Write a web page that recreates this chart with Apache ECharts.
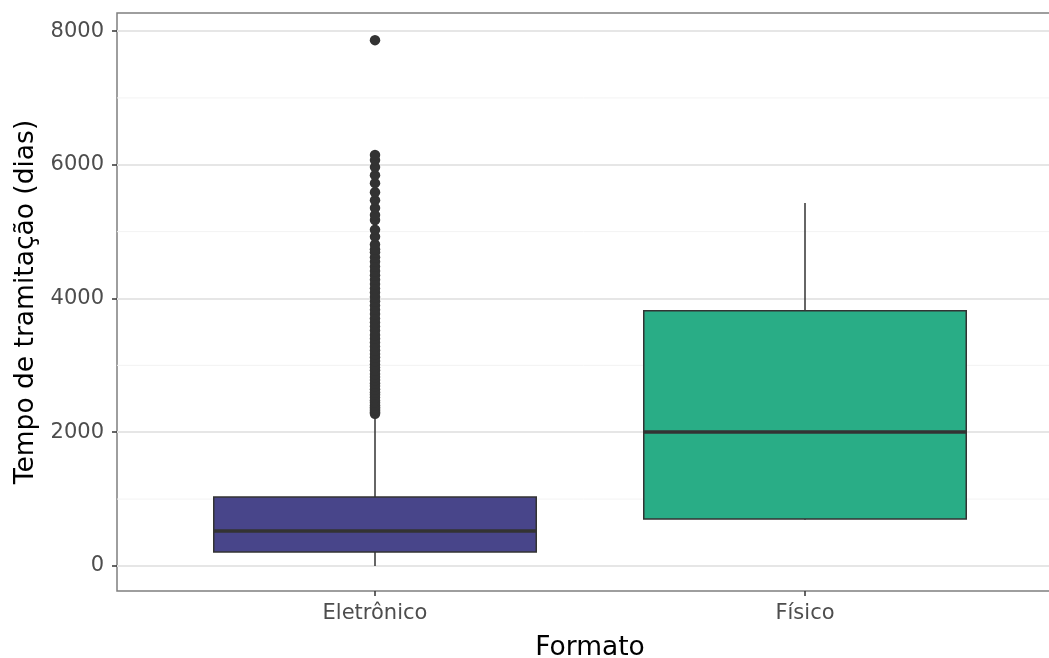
<!DOCTYPE html>
<html>
<head>
<meta charset="utf-8">
<script src="https://cdn.jsdelivr.net/npm/echarts@6/dist/echarts.min.js"></script>
<style>
  html, body { margin: 0; padding: 0; background: #fff; }
  #chart { width: 1049px; height: 658px; }
</style>
</head>
<body>
<div id="chart"></div>
<script>
// Categories on the x axis
const formats = ['Eletrônico', 'Físico'];
const formatColors = ['#48458a', '#29ad86'];

// Five-number summaries: [min whisker, Q1, median, Q3, max whisker]
const statsEletronico = [0, 209, 523, 1032, 2250];
const statsFisico = [690, 703, 2004, 3815, 5428];

// Outlying values for the electronic format
const outliersEletronico = [
  2275, 2298, 2321, 2347, 2375, 2402, 2440, 2475, 2519, 2560,
  2598, 2641, 2690, 2733, 2781, 2826, 2870, 2925, 2968, 3012,
  3066, 3120, 3171, 3225, 3283, 3342, 3398, 3455, 3520, 3580,
  3641, 3702, 3768, 3830, 3895, 3960, 4022, 4090, 4150, 4215,
  4280, 4348, 4410, 4480, 4550, 4617, 4690, 4735, 4808, 4925,
  5028, 5175, 5250, 5355, 5470, 5590, 5725, 5845, 5965, 6070,
  6145, 7864
];

// Axis breaks
const yMajorBreaks = [0, 2000, 4000, 6000, 8000];
const yMinorBreaks = [1000, 3000, 5000, 7000];

const boxData = [
  [1].concat(statsEletronico),
  [2].concat(statsFisico)
];
const outlierData = outliersEletronico.map(v => [1, v]);

const chart = echarts.init(document.getElementById('chart'), null, { renderer: 'canvas' });

// Draws one ggplot-style box: whiskers without caps, filled box, thick median
function renderBox(params, api) {
  const x = api.value(0);
  const idx = params.dataIndex;
  const half = api.size([0.75, 0])[0] / 2;
  const pMin = api.coord([x, api.value(1)]);
  const pQ1 = api.coord([x, api.value(2)]);
  const pMed = api.coord([x, api.value(3)]);
  const pQ3 = api.coord([x, api.value(4)]);
  const pMax = api.coord([x, api.value(5)]);
  const stroke = '#333333';
  return {
    type: 'group',
    children: [
      { type: 'line', shape: { x1: pMax[0], y1: pMax[1], x2: pQ3[0], y2: pQ3[1] },
        style: { stroke: stroke, lineWidth: 1.5 } },
      { type: 'line', shape: { x1: pMin[0], y1: pMin[1], x2: pQ1[0], y2: pQ1[1] },
        style: { stroke: stroke, lineWidth: 1.5 } },
      { type: 'rect',
        shape: { x: pQ3[0] - half, y: pQ3[1], width: half * 2, height: pQ1[1] - pQ3[1] },
        style: { fill: formatColors[idx], stroke: stroke, lineWidth: 1.5 } },
      { type: 'line', shape: { x1: pMed[0] - half, y1: pMed[1], x2: pMed[0] + half, y2: pMed[1] },
        style: { stroke: stroke, lineWidth: 3.5 } }
    ]
  };
}

// Minor horizontal grid lines across the plotting panel
function renderMinorLine(params, api) {
  const cs = params.coordSys;
  const y = api.coord([1, api.value(0)])[1];
  return {
    type: 'line',
    shape: { x1: cs.x, y1: y, x2: cs.x + cs.width, y2: y },
    style: { stroke: '#f3f3f3', lineWidth: 1 }
  };
}

const fontFamily = '"DejaVu Sans", sans-serif';

chart.setOption({
  animation: false,
  backgroundColor: '#ffffff',
  grid: {
    left: 117, top: 13, width: 946, bottom: 67,
    show: true, borderColor: '#7f7f7f', borderWidth: 1.5, backgroundColor: 'transparent',
    containLabel: false,
    outerBoundsMode: 'none'
  },
  xAxis: {
    type: 'value',
    min: 0.4, max: 2.6,
    name: 'Formato',
    nameLocation: 'middle',
    nameGap: 44,
    nameTextStyle: { fontFamily: fontFamily, fontSize: 26.5, color: '#000' },
    axisLine: { show: false, onZero: false },
    splitLine: { show: false },
    axisTick: { show: true, customValues: [1, 2], length: 5, lineStyle: { color: '#333', width: 1.5 } },
    axisLabel: {
      customValues: [1, 2],
      formatter: v => formats[Math.round(v) - 1] || '',
      margin: 12,
      fontFamily: fontFamily, fontSize: 21, color: '#4d4d4d'
    }
  },
  yAxis: {
    type: 'value',
    min: -375, max: 8270,
    name: 'Tempo de tramitação (dias)',
    nameLocation: 'middle',
    nameGap: 71,
    nameTextStyle: { fontFamily: fontFamily, fontSize: 26.5, color: '#000' },
    axisLine: { show: false, onZero: false },
    axisTick: { show: true, customValues: yMajorBreaks, length: 5, lineStyle: { color: '#333', width: 1.5 } },
    axisLabel: {
      customValues: yMajorBreaks,
      formatter: v => String(v),
      margin: 13,
      fontFamily: fontFamily, fontSize: 21, color: '#4d4d4d'
    },
    splitLine: { show: true, lineStyle: { color: '#e6e6e6', width: 1.8 } }
  },
  series: [
    {
      type: 'custom',
      renderItem: renderMinorLine,
      data: yMinorBreaks.map(v => [v]),
      encode: { y: 0 },
      silent: true,
      z: 1
    },
    {
      type: 'custom',
      renderItem: renderBox,
      data: boxData,
      encode: { x: 0, y: [1, 2, 3, 4, 5] },
      z: 3
    },
    {
      type: 'scatter',
      data: outlierData,
      symbol: 'circle',
      symbolSize: 10.5,
      itemStyle: { color: '#333333', opacity: 1 },
      z: 4
    }
  ]
});
</script>
</body>
</html>
